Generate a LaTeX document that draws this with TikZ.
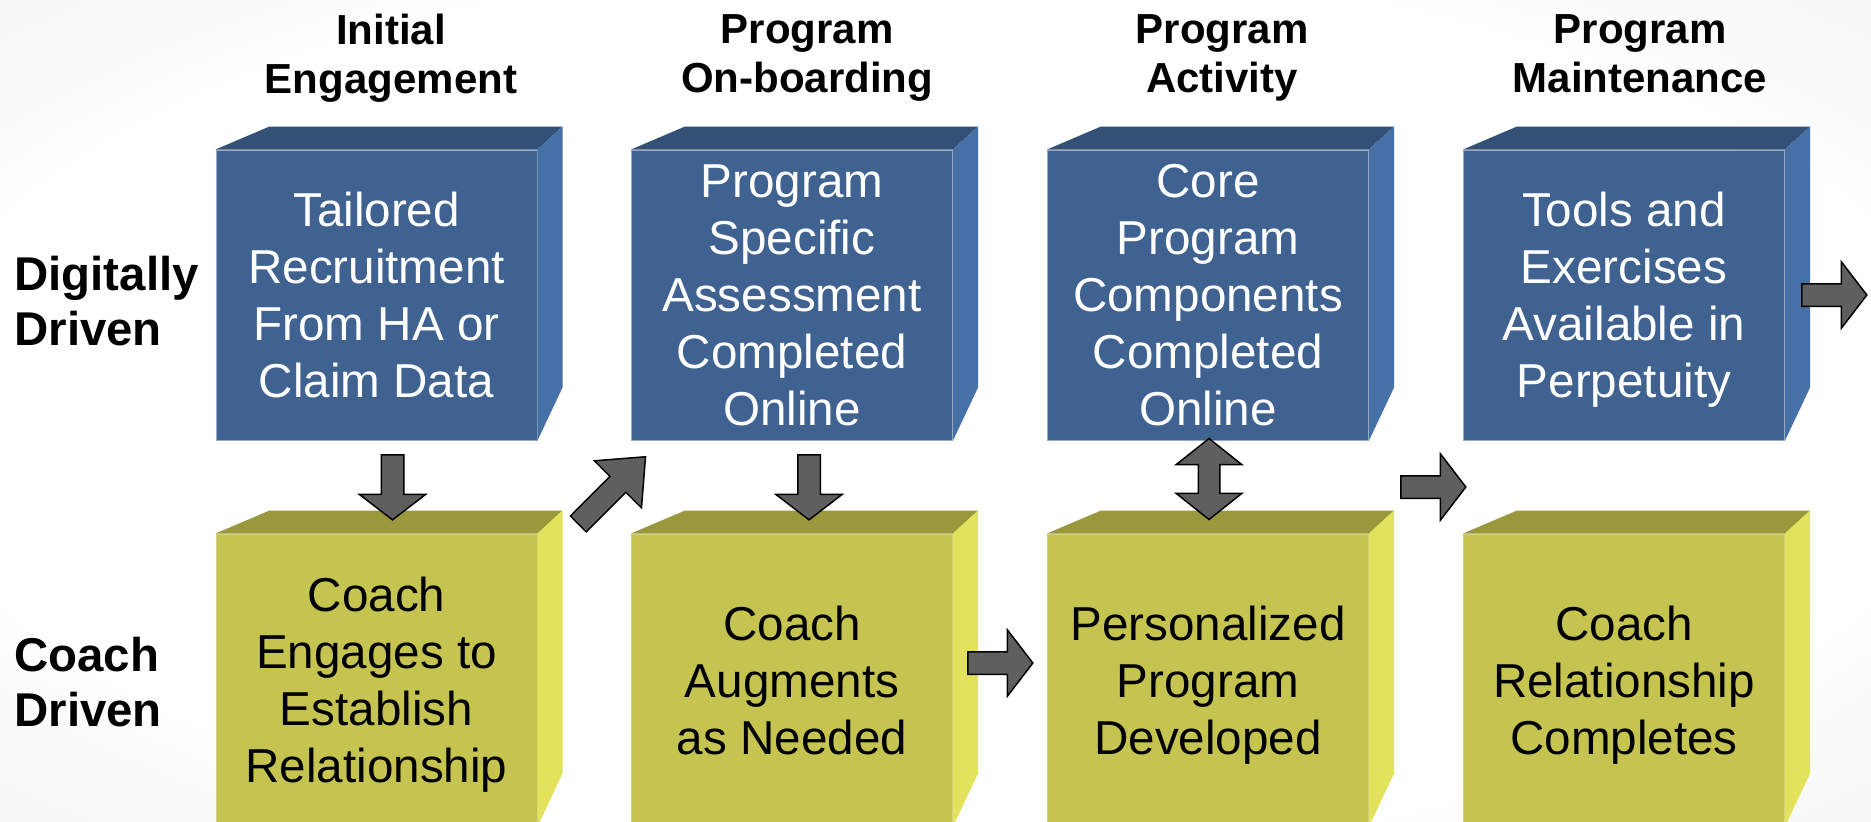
\documentclass[tikz,border=0pt]{standalone}
\usepackage{fontspec}
\setmainfont{Liberation Sans}
\usetikzlibrary{shapes.arrows,calc}

\definecolor{bluefront}{RGB}{63,98,145}
\definecolor{bluetop}{RGB}{51,80,118}
\definecolor{blueside}{RGB}{69,113,167}
\definecolor{yelfront}{RGB}{197,196,80}
\definecolor{yeltop}{RGB}{153,152,60}
\definecolor{yelside}{RGB}{226,226,92}
\definecolor{arrowgray}{RGB}{95,95,95}

% soft grey towards the corners
\pgfdeclareradialshading{backdrop}{\pgfpoint{0bp}{0bp}}{color(0bp)=(white); color(26bp)=(white); color(50bp)=(black!8); color(72bp)=(black!14)}

\begin{document}
\begin{tikzpicture}[x=0.5pt,y=-0.5pt,
	stage/.style={font=\fontsize{21}{24.5}\selectfont\bfseries, align=center, anchor=north, inner sep=0pt},
	track/.style={font=\fontsize{23.7}{27.5}\selectfont\bfseries, align=left, anchor=north west, inner sep=0pt},
	face/.style={minimum width=160.5pt, inner sep=0pt, align=center, line width=0.5pt, font=\fontsize{23.8}{28.5}\selectfont},
	digital/.style={face, minimum height=145pt, fill=bluefront, draw=bluefront!55!white, text=white},
	coach/.style={face, minimum height=146pt, fill=yelfront, draw=yelfront!75!white, text=black},
	blockarrow/.style={single arrow, draw=black, line width=0.75pt, fill=arrowgray,
		minimum width=32.5pt, minimum height=32.5pt, inner xsep=0pt, inner ysep=5.25pt,
		single arrow head extend=11pt, single arrow tip angle=105},
	twowayarrow/.style={double arrow, draw=black, line width=0.75pt, fill=arrowgray,
		minimum width=32.5pt, minimum height=40.5pt, inner xsep=0pt, inner ysep=5pt,
		double arrow head extend=11pt, double arrow tip angle=103}]

\shade[shading=backdrop] (0,0) rectangle (1871,821);
\useasboundingbox (0,0) rectangle (1871,821);

% column titles
\node[stage] (h1) at (391,14) {Initial\\Engagement};
\node[stage] (h2) at (807,14) {Program\\On-boarding};
\node[stage] (h3) at (1222,14) {Program\\Activity};
\node[stage] (h4) at (1640,14) {Program\\Maintenance};

% row titles
\node[track] (r1) at (14,256) {Digitally\\Driven};
\node[track] (r2) at (14,637) {Coach\\Driven};

% front faces
\node[digital] (d1) at (376.5,295) {Tailored\\Recruitment\\From HA or\\\smash{Claim Data}};
\node[digital] (d2) at (792,295) {Program\\Specific\\Assessment\\Completed\\\smash{Online}};
\node[digital] (d3) at (1208,295) {Core\\Program\\Components\\Completed\\\smash{Online}};
\node[digital] (d4) at (1624,295) {Tools and\\Exercises\\Available in\\\smash{Perpetuity}};

\node[coach] (c1) at (376.5,680) {Coach\\Engages to\\Establish\\\smash{Relationship}};
\node[coach] (c2) at (792,680) {Coach\\Augments\\\smash{as Needed}};
\node[coach] (c3) at (1208,680) {Personalized\\Program\\\smash{Developed}};
\node[coach] (c4) at (1624,680) {Coach\\Relationship\\\smash{Completes}};

% top and side of each block
\foreach \b/\t/\s in {d1/bluetop/blueside, d2/bluetop/blueside, d3/bluetop/blueside, d4/bluetop/blueside,
		c1/yeltop/yelside, c2/yeltop/yelside, c3/yeltop/yelside, c4/yeltop/yelside} {
	\fill[\t] (\b.north west) -- ($(\b.north west)+(54,-23)$) -- ($(\b.north east)+(25,-23)$) -- (\b.north east) -- cycle;
	\fill[\s] (\b.north east) -- ($(\b.north east)+(25,-23)$) -- ($(\b.south east)+(25,-53)$) -- (\b.south east) -- cycle;
}

% arrows between the blocks
\node[blockarrow, rotate=-90] (a1) at ($(d1.south)!0.5!(c1.north)+(16,-4)$) {};
\node[blockarrow, rotate=45, minimum height=47.5pt, single arrow tip angle=81] (a2) at ($(c1.north east)!0.5!(d2.south west)+(23,8)$) {};
\node[blockarrow, rotate=-90] (a3) at ($(d2.south)!0.5!(c2.north)+(17,-4)$) {};
\node[twowayarrow, rotate=90] (a4) at ($(d3.south)!0.5!(c3.north)+(1,-8)$) {};
\node[blockarrow] (a5) at ($(c2.east)!0.5!(c3.west)+(-4,-17)$) {};
\node[blockarrow] (a6) at ($(d3.south east)!0.5!(c4.north west)+(13,0)$) {};
\node[blockarrow] (a7) at ($(d4.east)+(45,0)$) {};

\end{tikzpicture}
\end{document}
